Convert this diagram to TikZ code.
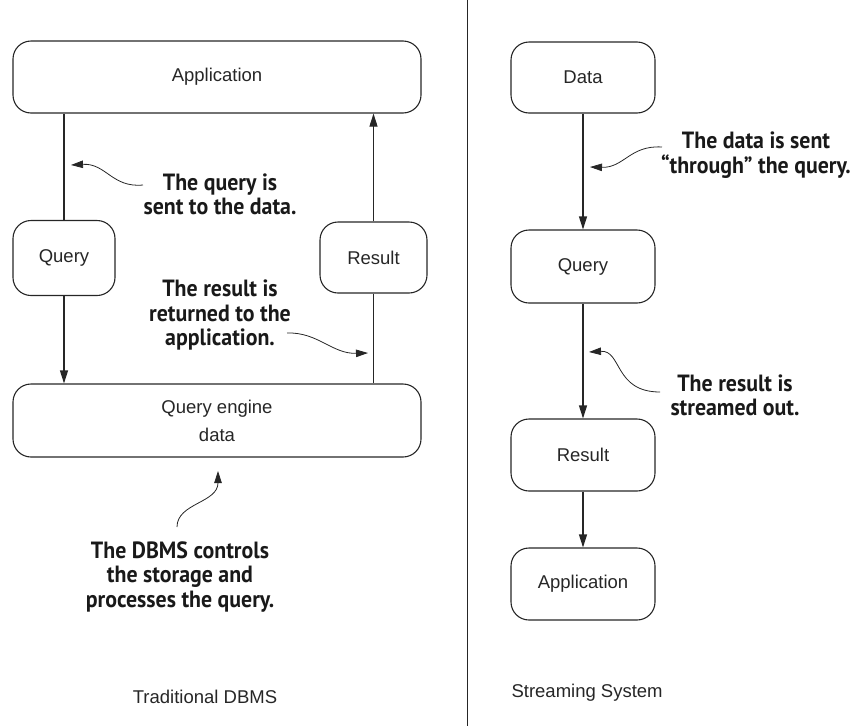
\documentclass[tikz,border=0pt]{standalone}
\usepackage{fontspec}
\setmainfont{Liberation Sans}
\newfontfamily\notefont{PT Sans}[FakeStretch=0.93]
\usetikzlibrary{arrows.meta,positioning}

\begin{document}
\begin{tikzpicture}[x=1pt,y=-1pt,line join=round,
  box/.style={draw=black!85,line width=1.1pt,rounded corners=18pt,align=center,
    font=\fontsize{18.5}{22}\selectfont,text=black!85},
  arr/.style={-{Triangle[length=13pt,width=8pt]}},
  flow/.style={draw=black!85,line width=1.1pt},
  note/.style={align=center,font=\notefont\bfseries\fontsize{23.5}{24.5}\selectfont,text=black!90},
  hint/.style={draw=black!85,line width=0.8pt,-{Triangle[length=12pt,width=7.5pt]}}]
\useasboundingbox (0,0) rectangle (857,726);
% traditional DBMS
\node[box,minimum width=408pt,minimum height=72pt] (app) at (217,77) {Application};
\node[box,minimum width=102pt,minimum height=75pt] (lq) at (64,258) {Query};
\node[box,minimum width=107pt,minimum height=71pt] (lr) at (373.5,257.5) {Result};
\node[box,minimum width=408pt,minimum height=73pt] (eng) at (217,420.5) {Query engine\\[6pt]data};
\draw[flow] (lq.north) -- (lq.north |- app.south);
\draw[flow,arr] (lq.south) -- (lq.south |- eng.north);
\draw[flow] (lr.south) -- (lr.south |- eng.north);
\draw[flow,arr] (lr.north) -- (lr.north |- app.south);
\node[note] (nq) at (220,194.5) {The query is\\sent to the data.};
\node[note] (nr) at (220,315) {The result is\\returned to the\\application.};
\node[note] (nd) at (180,577) {The DBMS controls\\the storage and\\processes the query.};
\coordinate (tq) at (143,185); \coordinate (hq) at (71,165);
\coordinate (tr) at (287,333); \coordinate (hr) at (368,353);
\coordinate (td) at (177,527); \coordinate (hd) at (218,471);
\draw[hint] (tq) .. controls (112,188) and (106,163) .. (hq);
\draw[hint] (tr) .. controls (318,332) and (332,354) .. (hr);
\draw[hint] (td) .. controls (177,503) and (218,503) .. (hd);
\node[font=\fontsize{18.5}{22}\selectfont,text=black!85] (tt) at (205,697) {Traditional DBMS};
% divider
\coordinate (top) at (467,0); \coordinate (bot) at (467,726);
\draw[flow,line width=1pt] (top) -- (bot);
% streaming system
\node[box,minimum width=144pt,minimum height=71pt] (sd) at (583,77.5) {Data};
\node[box,minimum width=144pt,minimum height=73pt] (sq) at (583,266.5) {Query};
\node[box,minimum width=144pt,minimum height=72pt] (sr) at (583,455) {Result};
\node[box,minimum width=144pt,minimum height=72pt] (sa) at (583,584) {Application};
\draw[flow,arr] (sd) -- (sq);
\draw[flow,arr] (sq) -- (sr);
\draw[flow,arr] (sr) -- (sa);
\node[note] (ns) at (756,155) {The data is sent\\“through” the query.};
\node[note] (no) at (735,395.5) {The result is\\streamed out.};
\coordinate (ts) at (662,147); \coordinate (hs) at (590,167);
\coordinate (to) at (660,392); \coordinate (ho) at (589,352);
\draw[hint] (ts) .. controls (630,145) and (624,168) .. (hs);
\draw[hint] (to) .. controls (614,392) and (622,350) .. (ho);
\node[font=\fontsize{18.5}{22}\selectfont,text=black!85,anchor=west] (st) at (508,693) {Streaming System};
\end{tikzpicture}
\end{document}
